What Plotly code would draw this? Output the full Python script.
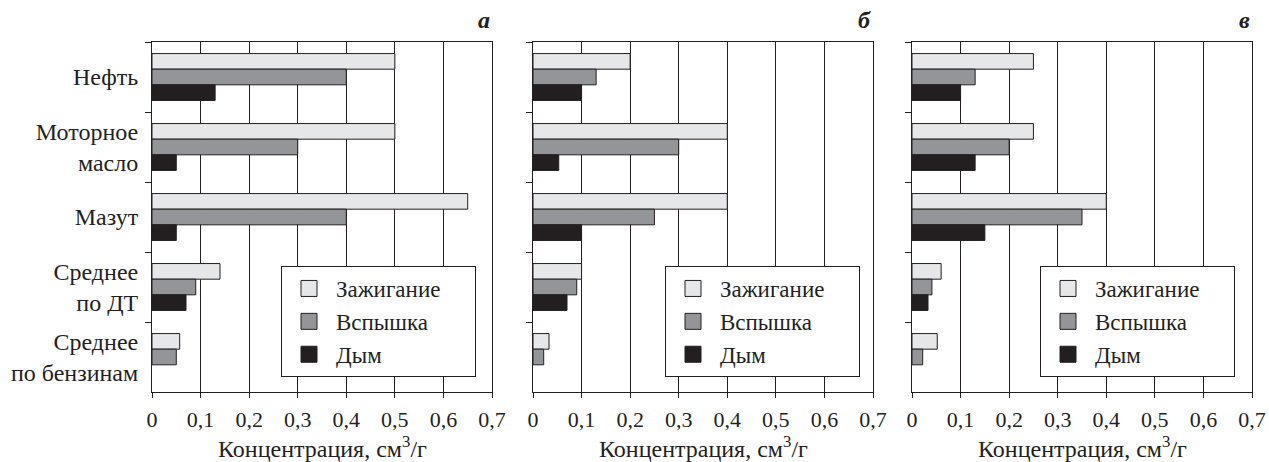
import plotly.graph_objects as go

# ---------------- data ----------------
categories = ["Нефть", "Моторное<br>масло", "Мазут", "Среднее<br>по ДТ", "Среднее<br>по бензинам"]
series_names = ["Зажигание", "Вспышка", "Дым"]
panel_labels = ["а", "б", "в"]

a_ignition = [0.50, 0.50, 0.65, 0.14, 0.057]
a_flash = [0.40, 0.30, 0.40, 0.09, 0.05]
a_smoke = [0.13, 0.05, 0.05, 0.07, None]

b_ignition = [0.20, 0.40, 0.40, 0.10, 0.033]
b_flash = [0.13, 0.30, 0.25, 0.09, 0.022]
b_smoke = [0.10, 0.053, 0.10, 0.07, None]

c_ignition = [0.25, 0.25, 0.40, 0.06, 0.052]
c_flash = [0.13, 0.20, 0.35, 0.041, 0.022]
c_smoke = [0.10, 0.13, 0.15, 0.033, None]

x_tickvals = [0, 0.1, 0.2, 0.3, 0.4, 0.5, 0.6, 0.7]
x_ticktext = ["0", "0,1", "0,2", "0,3", "0,4", "0,5", "0,6", "0,7"]
x_title = "Концентрация, см<sup>3</sup>/г"

panels = [
    [a_ignition, a_flash, a_smoke],
    [b_ignition, b_flash, b_smoke],
    [c_ignition, c_flash, c_smoke],
]

# ---------------- style ----------------
W, H = 1269, 462
FONT = "Liberation Serif"
INK = "#231f20"
fills = ["#e6e7e8", "#939598", "#231f20"]
px_x = [(152, 492), (533, 873), (912, 1252)]
plot_top, plot_bottom = 42, 392
legend_right = [476, 860, 1235]
legend_bottom = 377
PAD = "\u00a0" * 5

fig = go.Figure()

for p, series in enumerate(panels):
    sfx = "" if p == 0 else str(p + 1)
    xa, ya = "x" + sfx, "y" + sfx
    lg = "legend" + sfx
    for s, vals in enumerate(series):
        fig.add_trace(go.Bar(
            x=vals, y=categories, orientation="h",
            name=series_names[s], xaxis=xa, yaxis=ya,
            marker=dict(color=fills[s], line=dict(color=INK, width=1)),
            showlegend=False, hoverinfo="x+y+name",
        ))
    for s in range(3):
        fig.add_trace(go.Scatter(
            x=[None], y=[None], mode="markers", name=series_names[s] + PAD,
            xaxis=xa, yaxis=ya, legend=lg,
            marker=dict(symbol="square", size=16, color=fills[s],
                        line=dict(color=INK, width=1)),
        ))

    x0, x1 = px_x[p]
    fig.layout["xaxis" + sfx] = dict(
        domain=[x0 / W, x1 / W], anchor=ya, range=[0, 0.7],
        tickvals=x_tickvals, ticktext=x_ticktext,
        ticks="outside", ticklen=5, tickcolor=INK, tickwidth=1,
        showline=True, linecolor=INK, linewidth=1, mirror=True,
        showgrid=True, gridcolor=INK, gridwidth=1, zeroline=False,
        tickfont=dict(family=FONT, size=22, color=INK),
        ticklabelstandoff=3, automargin=False, fixedrange=True,
    )
    fig.layout["yaxis" + sfx] = dict(
        domain=[(H - plot_bottom) / H, (H - plot_top) / H], anchor=xa,
        type="category", categoryorder="array", categoryarray=categories,
        range=[4.5, -0.5], tickson="boundaries",
        ticks="outside", ticklen=6, tickcolor=INK, tickwidth=1,
        showline=True, linecolor=INK, linewidth=1, mirror=True,
        showgrid=False, zeroline=False, showticklabels=(p == 0),
        tickfont=dict(family=FONT, size=24, color=INK),
        ticklabelstandoff=8, automargin=False, fixedrange=True,
    )
    fig.layout[lg] = dict(
        x=legend_right[p] / W, y=(H - legend_bottom) / H,
        xanchor="right", yanchor="bottom",
        bgcolor="white", bordercolor=INK, borderwidth=1,
        font=dict(family=FONT, size=23, color=INK),
        itemwidth=44, itemsizing="trace", traceorder="normal",
    )
    fig.add_annotation(
        text="<b><i>" + panel_labels[p] + "</i></b>",
        xref="paper", x=x1 / W, xanchor="right",
        yref="paper", y=(H - 20) / H, yanchor="middle",
        showarrow=False, font=dict(family=FONT, size=24, color=INK),
    )
    fig.add_annotation(
        text=x_title,
        xref="paper", x=(x0 + x1) / 2 / W, xanchor="center",
        yref="paper", y=(H - 447) / H, yanchor="middle",
        showarrow=False, font=dict(family=FONT, size=24, color=INK),
    )

fig.update_layout(
    width=W, height=H,
    margin=dict(l=0, r=0, t=0, b=0),
    barmode="group", bargap=0.33, bargroupgap=0,
    plot_bgcolor="white", paper_bgcolor="white",
    font=dict(family=FONT, size=22, color=INK),
)

post = (
    "document.body.style.margin='0';"
    "document.querySelectorAll('.main-svg text').forEach(function(t){"
    "t.style.fontFamily=\"'Liberation Serif', 'Times New Roman', serif\";});"
)
fig.write_html("out.html", post_script=post, config={"displayModeBar": False})
